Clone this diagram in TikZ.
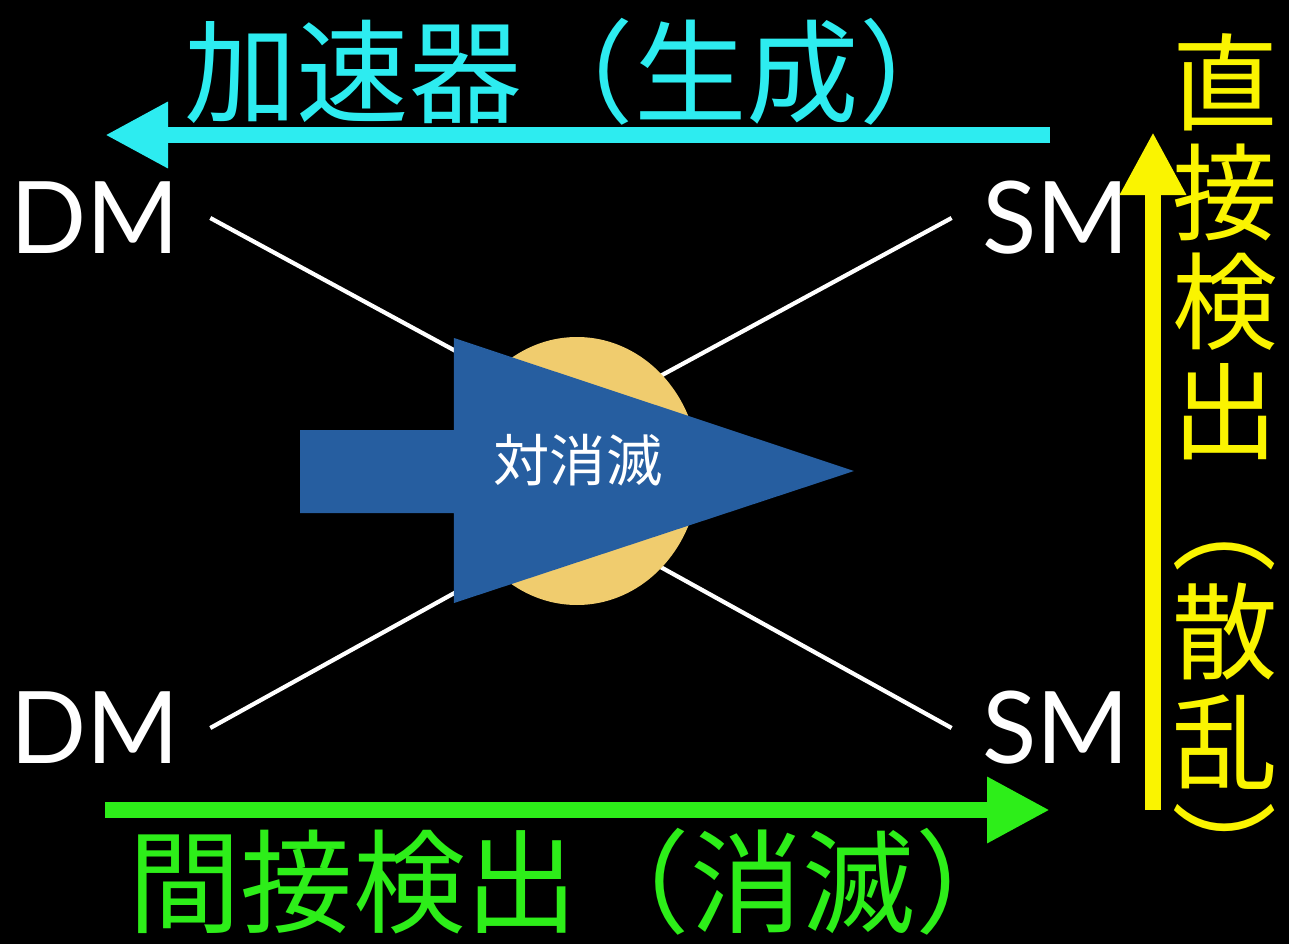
\documentclass[tikz,border=0pt]{standalone}
\usepackage{fontspec}
\setmainfont{Lato}
\newfontfamily\jpfont{Noto Sans CJK JP}
\usetikzlibrary{%
    arrows.meta,
    positioning
}
\definecolor{accelcyan}{RGB}{45,236,240}
\definecolor{indirgreen}{RGB}{45,238,25}
\definecolor{diryellow}{RGB}{250,244,0}
\definecolor{annblue}{RGB}{38,94,160}
\definecolor{blobgold}{RGB}{240,204,110}

\begin{document}
\begin{tikzpicture}[
    particle/.style={text=white, inner sep=0pt, font=\fontsize{28.5}{30}\selectfont},
    biglabel/.style={inner sep=0pt, font=\jpfont\fontsize{32}{34}\selectfont},
    sidelabel/.style={inner sep=0pt, text=diryellow, font=\jpfont\fontsize{30}{32}\selectfont},
    leg/.style={white, line width=1.2pt},
    probe/.style={line width=4.6pt, -{Triangle[length=0.63cm,width=0.62cm]}}
]
    \fill[black] (0,0) rectangle (12.89,-9.44);

    \node[particle] (dmtop) at (0.95,-2.18) {DM};
    \node[particle] (dmbot) at (0.95,-7.28) {DM};
    \node[particle] (smtop) at (10.56,-2.18) {SM};
    \node[particle] (smbot) at (10.56,-7.28) {SM};

    \coordinate (vtop) at (5.81,-4.19);
    \coordinate (vbot) at (5.81,-5.23);

    \draw[leg] ([xshift=0.3cm]dmtop.east) -- (vtop);
    \draw[leg] ([xshift=-0.3cm]smtop.west) -- (vtop);
    \draw[leg] ([xshift=0.3cm]dmbot.east) -- (vbot);
    \draw[leg] ([xshift=-0.3cm]smbot.west) -- (vbot);

    \fill[blobgold] (5.77,-4.71) ellipse [x radius=1.22cm, y radius=1.34cm];
    \fill[annblue] (3.00,-4.30) -- (4.54,-4.30) -- (4.54,-3.38) -- (8.54,-4.71)
        -- (4.54,-6.03) -- (4.54,-5.13) -- (3.00,-5.13) -- cycle;
    \node[text=white, inner sep=0pt, font=\jpfont\fontsize{16}{18}\selectfont]
        (anni) at (5.78,-4.60) {対消滅};

    % production, indirect and direct detection
    \coordinate (accstart) at (10.50,-1.35);
    \coordinate (accend)   at (1.05,-1.35);
    \coordinate (indstart) at (1.05,-8.10);
    \coordinate (indend)   at (10.50,-8.10);
    \coordinate (dirstart) at (11.53,-8.10);
    \coordinate (dirend)   at (11.53,-1.32);

    \draw[probe, accelcyan] (accstart) -- (accend);
    \draw[probe, indirgreen] (indstart) -- (indend);
    \draw[probe, diryellow] (dirstart) -- (dirend);

    \node[biglabel, text=accelcyan] (accel) at (5.78,-0.72) {加速器（生成）};
    \node[biglabel, text=indirgreen] (indirect) at (5.78,-8.82) {間接検出（消滅）};

    \foreach \Char [count=\Index] in {直,接,検,出,{\rotatebox{-90}{（}},散,乱,{\rotatebox{-90}{）}}}
        \node[sidelabel] (direct\Index) at (12.25,{-0.82-1.1*(\Index-1)}) {\Char};
\end{tikzpicture}
\end{document}
